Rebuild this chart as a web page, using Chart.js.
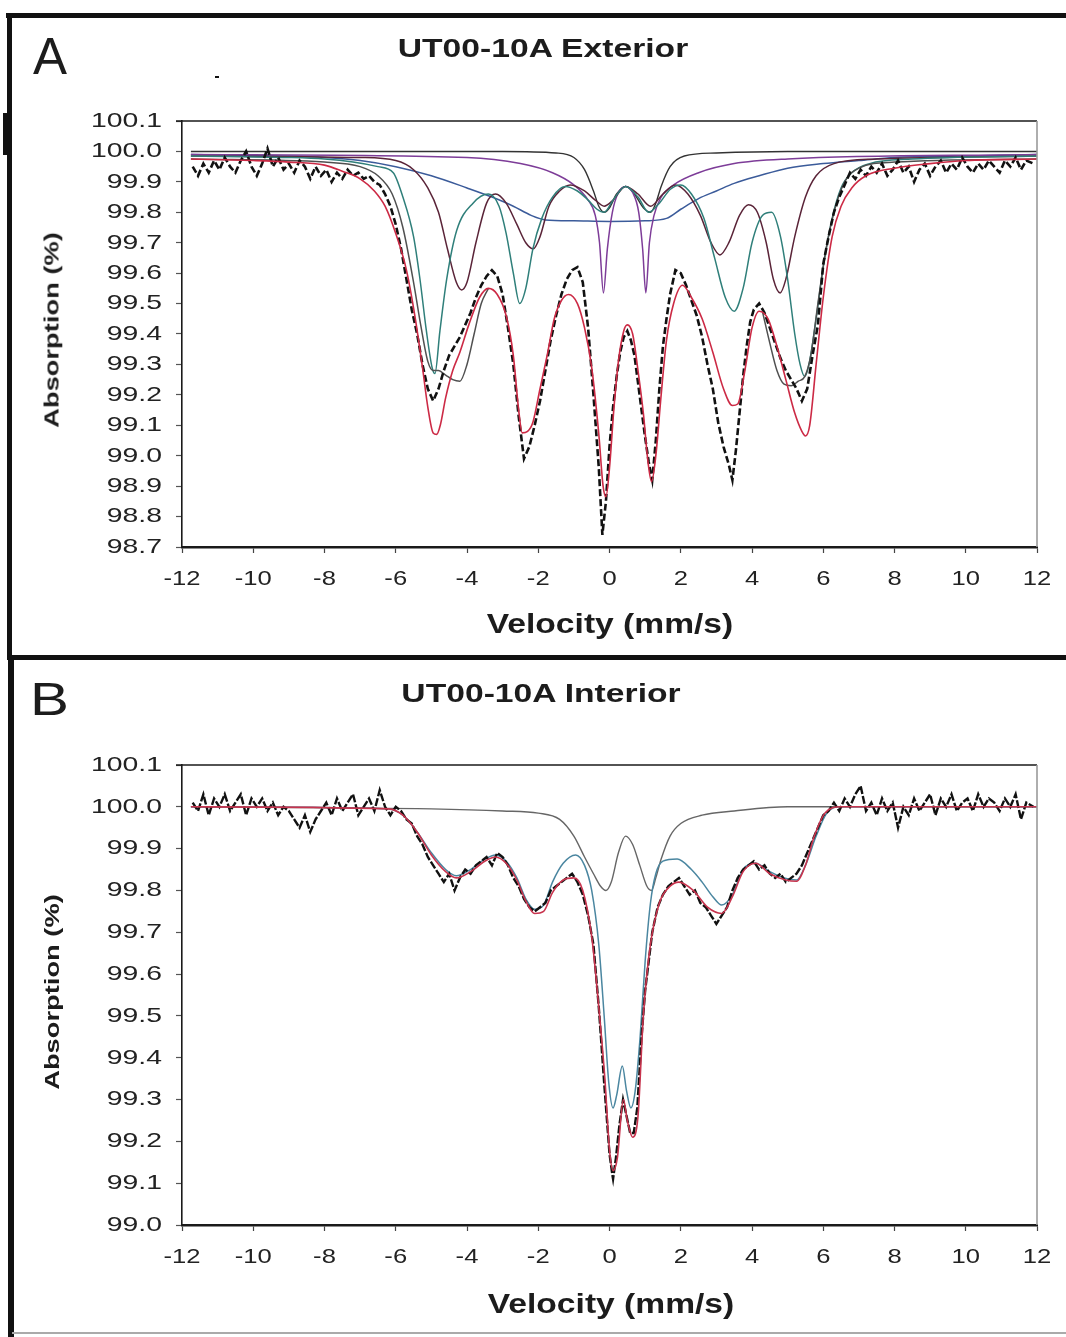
<!DOCTYPE html>
<html>
<head>
<meta charset="utf-8">
<title>UT00-10A Mössbauer spectra</title>
<script src="https://cdn.jsdelivr.net/npm/chart.js@4.4.1/dist/chart.umd.min.js"></script>
<style>
  body { margin: 0; background: #fff; }
  #page { position: relative; width: 1066px; height: 1337px; overflow: hidden; background: #fff;
          font-family: "Liberation Sans", Arial, sans-serif; color: #1c1c1c; }
  canvas { position: absolute; left: 0; }
  .rule { position: absolute; background: #111; }
  .txt { position: absolute; white-space: nowrap; line-height: 1; }
  .title { font-weight: bold; font-size: 26.5px; transform: translateX(-50%) scaleX(1.27); }
  .xtitle { font-weight: bold; font-size: 28px; transform: translateX(-50%) scaleX(1.2); }
  .ytitle { font-weight: bold; font-size: 21px; transform: translate(-50%, -50%) rotate(-90deg) scaleX(1.3); }
</style>
</head>
<body>
<div id="page">
  <canvas id="chartA" width="1066" height="655" style="top:0"></canvas>
  <canvas id="chartB" width="1066" height="677" style="top:660px"></canvas>

  <div class="rule" style="left:6px; top:13px; width:1060px; height:5px"></div>
  <div class="rule" style="left:7px; top:13px; width:5px; height:647px"></div>
  <div class="rule" style="left:3px; top:113px; width:5px; height:42px"></div>
  <div class="rule" style="left:7px; top:655px; width:1059px; height:5px"></div>
  <div class="rule" style="left:8px; top:655px; width:6px; height:682px"></div>
  <div class="rule" style="left:12px; top:1332px; width:1054px; height:2px; background:#aaa"></div>
  <div class="rule" style="left:215px; top:76px; width:4px; height:2px"></div>

  <div class="txt" style="left:33px; top:31px; font-size:51px">A</div>
  <div class="txt" style="left:30px; top:676px; font-size:46px; transform:scaleX(1.27); transform-origin:left top">B</div>

  <div class="txt title" style="left:543px; top:35px">UT00-10A Exterior</div>
  <div class="txt title" style="left:541px; top:680px">UT00-10A Interior</div>

  <div class="txt xtitle" style="left:610px; top:610px">Velocity (mm/s)</div>
  <div class="txt xtitle" style="left:611px; top:1290px">Velocity (mm/s)</div>

  <div class="txt ytitle" style="left:51px; top:330px">Absorption (%)</div>
  <div class="txt ytitle" style="left:51px; top:992px">Absorption (%)</div>
</div>

<script>
// axis ticks
const velocityTicks = [-12, -10, -8, -6, -4, -2, 0, 2, 4, 6, 8, 10, 12];
const absorptionTicksA = [98.7, 98.8, 98.9, 99.0, 99.1, 99.2, 99.3, 99.4, 99.5, 99.6, 99.7, 99.8, 99.9, 100.0, 100.1];
const absorptionTicksB = [99.0, 99.1, 99.2, 99.3, 99.4, 99.5, 99.6, 99.7, 99.8, 99.9, 100.0, 100.1];

// ---- A: exterior, [velocity, absorption] ----
const measuredA = [
  [-11.7, 99.95], [-11.55, 99.92], [-11.4, 99.96], [-11.25, 99.93], [-11.1, 99.97], [-10.95, 99.94],
  [-10.8, 99.98], [-10.65, 99.95], [-10.5, 99.93], [-10.35, 99.97], [-10.2, 100.00], [-10.05, 99.95],
  [-9.9, 99.92], [-9.75, 99.96], [-9.6, 100.01], [-9.45, 99.95], [-9.3, 99.98], [-9.15, 99.94],
  [-9.0, 99.96], [-8.85, 99.93], [-8.7, 99.97], [-8.55, 99.95], [-8.4, 99.91], [-8.25, 99.95],
  [-8.1, 99.92], [-7.95, 99.94], [-7.8, 99.90], [-7.65, 99.93], [-7.5, 99.91], [-7.35, 99.94],
  [-7.2, 99.92], [-7.05, 99.93], [-6.9, 99.91], [-6.75, 99.92], [-6.6, 99.90], [-6.45, 99.89],
  [-6.3, 99.86], [-6.15, 99.82], [-6.0, 99.76], [-5.85, 99.68], [-5.7, 99.58], [-5.55, 99.48],
  [-5.4, 99.40], [-5.25, 99.30], [-5.1, 99.22], [-4.95, 99.18], [-4.8, 99.22], [-4.65, 99.28],
  [-4.5, 99.33], [-4.35, 99.36], [-4.2, 99.39], [-4.05, 99.43], [-3.9, 99.47], [-3.75, 99.52],
  [-3.6, 99.56], [-3.45, 99.59], [-3.3, 99.61], [-3.15, 99.59], [-3.0, 99.53], [-2.85, 99.42],
  [-2.7, 99.30], [-2.55, 99.13], [-2.4, 98.99], [-2.25, 99.03], [-2.1, 99.10], [-1.95, 99.18],
  [-1.8, 99.28], [-1.65, 99.38], [-1.5, 99.46], [-1.35, 99.53], [-1.2, 99.58], [-1.05, 99.61],
  [-0.9, 99.62], [-0.75, 99.57], [-0.6, 99.42], [-0.45, 99.20], [-0.3, 98.96], [-0.2, 98.74],
  [-0.1, 98.85], [0.0, 99.03], [0.1, 99.16], [0.2, 99.26], [0.3, 99.34], [0.4, 99.39],
  [0.5, 99.41], [0.6, 99.38], [0.7, 99.33], [0.8, 99.24], [0.9, 99.15], [1.0, 99.06],
  [1.1, 98.98], [1.2, 98.92], [1.3, 99.05], [1.4, 99.22], [1.5, 99.36], [1.6, 99.45],
  [1.7, 99.53], [1.85, 99.61], [2.0, 99.60], [2.15, 99.56], [2.3, 99.51], [2.45, 99.46],
  [2.6, 99.39], [2.75, 99.30], [2.9, 99.22], [3.05, 99.11], [3.2, 99.03], [3.35, 98.97],
  [3.45, 98.92], [3.55, 99.02], [3.65, 99.14], [3.75, 99.26], [3.85, 99.36], [3.95, 99.44],
  [4.05, 99.48], [4.2, 99.50], [4.35, 99.47], [4.5, 99.42], [4.65, 99.37], [4.8, 99.32],
  [4.95, 99.28], [5.1, 99.25], [5.25, 99.22], [5.4, 99.18], [5.55, 99.22], [5.7, 99.33],
  [5.85, 99.43], [6.0, 99.63], [6.15, 99.72], [6.3, 99.80], [6.45, 99.85], [6.6, 99.89],
  [6.75, 99.93], [6.9, 99.91], [7.05, 99.94], [7.2, 99.92], [7.35, 99.95], [7.5, 99.93],
  [7.65, 99.96], [7.8, 99.92], [7.95, 99.94], [8.1, 99.97], [8.25, 99.93], [8.4, 99.95],
  [8.55, 99.90], [8.7, 99.94], [8.85, 99.96], [9.0, 99.92], [9.15, 99.95], [9.3, 99.97],
  [9.45, 99.93], [9.6, 99.96], [9.75, 99.94], [9.9, 99.98], [10.05, 99.95], [10.2, 99.93],
  [10.35, 99.96], [10.5, 99.94], [10.65, 99.97], [10.8, 99.95], [10.95, 99.93], [11.1, 99.97],
  [11.25, 99.95], [11.4, 99.98], [11.55, 99.94], [11.7, 99.97], [11.9, 99.96]
];

const fitA = [
  [-11.75, 99.975], [-10, 99.97], [-9, 99.965], [-8, 99.955], [-7.5, 99.935], [-7.0, 99.91],
  [-6.6, 99.87], [-6.3, 99.82], [-6.0, 99.73], [-5.7, 99.61], [-5.45, 99.45], [-5.25, 99.29],
  [-5.1, 99.16], [-4.95, 99.075], [-4.85, 99.07], [-4.75, 99.10], [-4.6, 99.19], [-4.4, 99.28],
  [-4.2, 99.34], [-3.95, 99.43], [-3.65, 99.52], [-3.4, 99.55], [-3.15, 99.53], [-2.9, 99.46],
  [-2.7, 99.33], [-2.55, 99.15], [-2.45, 99.075], [-2.3, 99.08], [-2.15, 99.11], [-1.95, 99.22],
  [-1.75, 99.33], [-1.55, 99.45], [-1.35, 99.51], [-1.15, 99.53], [-0.9, 99.50], [-0.7, 99.42],
  [-0.5, 99.29], [-0.3, 99.07], [-0.18, 98.90], [-0.1, 98.865], [0.0, 98.96], [0.12, 99.15],
  [0.25, 99.31], [0.4, 99.41], [0.5, 99.43], [0.65, 99.40], [0.8, 99.28], [0.95, 99.14],
  [1.08, 98.98], [1.18, 98.915], [1.3, 99.00], [1.45, 99.20], [1.6, 99.38], [1.8, 99.50],
  [2.05, 99.56], [2.3, 99.52], [2.6, 99.45], [2.9, 99.34], [3.2, 99.22], [3.45, 99.165],
  [3.6, 99.17], [3.8, 99.28], [4.0, 99.42], [4.2, 99.475], [4.45, 99.45], [4.7, 99.36],
  [4.95, 99.25], [5.2, 99.14], [5.4, 99.08], [5.5, 99.065], [5.62, 99.10], [5.8, 99.30],
  [6.0, 99.52], [6.25, 99.72], [6.5, 99.82], [6.8, 99.88], [7.2, 99.92], [8, 99.945],
  [9, 99.96], [10, 99.97], [12, 99.975]
];

const sextetSumA = [
  [-11.75, 99.975], [-8, 99.965], [-7, 99.95], [-6.5, 99.92], [-6.1, 99.86], [-5.8, 99.75],
  [-5.5, 99.57], [-5.3, 99.43], [-5.1, 99.31], [-4.95, 99.28], [-4.8, 99.28], [-4.6, 99.265],
  [-4.4, 99.25], [-4.2, 99.245], [-4.0, 99.30], [-3.8, 99.40], [-3.6, 99.50], [-3.4, 99.55],
  [0.5, null],
  [4.3, 99.47], [4.5, 99.37], [4.7, 99.28], [4.9, 99.235], [5.1, 99.23], [5.3, 99.245],
  [5.48, 99.26], [5.65, 99.33], [5.85, 99.50], [6.05, 99.66], [6.3, 99.80], [6.6, 99.90],
  [7.0, 99.945], [8, 99.965], [12, 99.975]
];

const sextetOuterA = [
  [-11.75, 99.985], [-9, 99.98], [-8, 99.975], [-7.2, 99.965], [-6.5, 99.95], [-6.07, 99.93],
  [-5.8, 99.85], [-5.5, 99.72], [-5.32, 99.58], [-5.14, 99.41], [-4.98, 99.29], [-4.9, 99.27],
  [-4.76, 99.41], [-4.57, 99.58], [-4.29, 99.74], [-3.83, 99.83], [-3.4, 99.86], [-3.1, 99.82],
  [-2.9, 99.73], [-2.7, 99.60], [-2.52, 99.50], [-2.35, 99.55], [-2.15, 99.68], [-1.9, 99.78],
  [-1.6, 99.85], [-1.25, 99.885], [-0.9, 99.87], [-0.6, 99.84], [-0.35, 99.81], [-0.15, 99.80],
  [0.1, 99.84], [0.45, 99.885], [0.8, 99.85], [1.1, 99.80], [1.4, 99.83], [1.7, 99.875],
  [2.0, 99.89], [2.3, 99.86], [2.65, 99.78], [2.95, 99.65], [3.25, 99.52], [3.5, 99.475],
  [3.75, 99.55], [4.0, 99.70], [4.3, 99.79], [4.55, 99.80], [4.8, 99.72], [5.0, 99.58],
  [5.2, 99.40], [5.35, 99.30], [5.48, 99.26], [5.6, 99.30], [5.8, 99.45], [6.0, 99.62],
  [6.25, 99.78], [6.5, 99.88], [6.8, 99.93], [7.3, 99.96], [8.5, 99.975], [12, 99.985]
];

const sextetInnerA = [
  [-11.75, 99.985], [-7, 99.98], [-6, 99.97], [-5.5, 99.94], [-5.1, 99.88], [-4.8, 99.80],
  [-4.55, 99.68], [-4.3, 99.57], [-4.15, 99.545], [-4.0, 99.57], [-3.75, 99.70], [-3.45, 99.83],
  [-3.2, 99.86], [-2.9, 99.83], [-2.6, 99.76], [-2.35, 99.70], [-2.14, 99.68], [-1.95, 99.72],
  [-1.7, 99.82], [-1.4, 99.87], [-1.1, 99.89], [-0.7, 99.87], [-0.4, 99.84], [-0.15, 99.82],
  [0.1, 99.84], [0.45, 99.885], [0.8, 99.86], [1.15, 99.82], [1.5, 99.86], [1.85, 99.89],
  [2.2, 99.86], [2.55, 99.79], [2.85, 99.70], [3.1, 99.66], [3.35, 99.70], [3.65, 99.79],
  [3.9, 99.825], [4.15, 99.80], [4.4, 99.70], [4.6, 99.58], [4.79, 99.535], [4.95, 99.58],
  [5.2, 99.72], [5.5, 99.85], [5.8, 99.92], [6.3, 99.96], [7.5, 99.975], [12, 99.985]
];

const sharpDoubletA = [
  [-11.75, 99.99], [-4, 99.98], [-2.5, 99.96], [-1.6, 99.93], [-1.0, 99.89], [-0.6, 99.84],
  [-0.4, 99.79], [-0.28, 99.70], [-0.17, 99.535], [-0.06, 99.68], [0.08, 99.80], [0.25, 99.865],
  [0.45, 99.885], [0.65, 99.865], [0.82, 99.80], [0.93, 99.68], [1.02, 99.535], [1.12, 99.70],
  [1.25, 99.79], [1.45, 99.85], [1.8, 99.89], [2.5, 99.93], [3.5, 99.96], [5, 99.975], [12, 99.99]
];

const doubletA = [
  [-11.75, 100.0], [-3, 100.0], [-1.5, 99.995], [-1.0, 99.98], [-0.7, 99.94], [-0.45, 99.87],
  [-0.3, 99.82], [-0.15, 99.80], [0.0, 99.815], [0.2, 99.86], [0.45, 99.885], [0.7, 99.86],
  [0.95, 99.815], [1.15, 99.80], [1.3, 99.83], [1.45, 99.885], [1.7, 99.95], [2.1, 99.985],
  [3, 99.995], [5, 100.0], [12, 100.0]
];

const broadA = [
  [-11.75, 99.99], [-9, 99.985], [-8, 99.98], [-7, 99.97], [-6, 99.95], [-5, 99.92],
  [-4, 99.88], [-3.3, 99.85], [-2.7, 99.82], [-2.2, 99.79], [-1.8, 99.775], [-1, 99.772],
  [0, 99.77], [1, 99.772], [1.6, 99.78], [2.0, 99.81], [2.5, 99.845], [3.0, 99.87],
  [3.5, 99.895], [4.2, 99.92], [5.0, 99.945], [6.0, 99.96], [7.0, 99.97], [8.0, 99.98],
  [10, 99.985], [12, 99.99]
];

// ---- B: interior ----
const measuredB = [
  [-11.7, 100.01], [-11.55, 99.99], [-11.4, 100.03], [-11.25, 99.98], [-11.1, 100.02], [-10.95, 100.00],
  [-10.8, 100.03], [-10.65, 99.99], [-10.5, 100.01], [-10.35, 100.03], [-10.2, 99.98], [-10.05, 100.02],
  [-9.9, 100.00], [-9.75, 100.02], [-9.6, 99.99], [-9.45, 100.01], [-9.3, 99.98], [-9.15, 100.00],
  [-9.0, 99.99], [-8.85, 99.97], [-8.7, 99.95], [-8.55, 99.98], [-8.4, 99.94], [-8.25, 99.97],
  [-8.1, 99.99], [-7.95, 100.01], [-7.8, 99.98], [-7.65, 100.02], [-7.5, 99.99], [-7.35, 100.01],
  [-7.2, 100.03], [-7.05, 99.98], [-6.9, 100.00], [-6.75, 100.02], [-6.6, 99.99], [-6.45, 100.04],
  [-6.3, 100.00], [-6.15, 99.98], [-6.0, 100.00], [-5.85, 99.99], [-5.7, 99.97], [-5.55, 99.96],
  [-5.4, 99.93], [-5.25, 99.91], [-5.1, 99.88], [-4.95, 99.86], [-4.8, 99.84], [-4.65, 99.82],
  [-4.5, 99.84], [-4.35, 99.80], [-4.2, 99.83], [-4.05, 99.85], [-3.9, 99.84], [-3.75, 99.86],
  [-3.6, 99.87], [-3.45, 99.88], [-3.3, 99.86], [-3.15, 99.89], [-3.0, 99.88], [-2.85, 99.86],
  [-2.7, 99.83], [-2.55, 99.81], [-2.4, 99.78], [-2.25, 99.76], [-2.1, 99.75], [-1.95, 99.76],
  [-1.8, 99.77], [-1.65, 99.80], [-1.5, 99.81], [-1.35, 99.82], [-1.2, 99.83], [-1.05, 99.84],
  [-0.9, 99.82], [-0.75, 99.79], [-0.6, 99.74], [-0.45, 99.67], [-0.3, 99.52], [-0.15, 99.34],
  [0.0, 99.17], [0.08, 99.12], [0.1, 99.11], [0.18, 99.16], [0.28, 99.24], [0.38, 99.30],
  [0.48, 99.26], [0.58, 99.22], [0.68, 99.22], [0.78, 99.28], [0.9, 99.45], [1.0, 99.56],
  [1.1, 99.63], [1.2, 99.70], [1.35, 99.76], [1.5, 99.79], [1.65, 99.81], [1.8, 99.82],
  [1.95, 99.83], [2.1, 99.81], [2.25, 99.79], [2.4, 99.80], [2.55, 99.77], [2.7, 99.76],
  [2.85, 99.74], [3.0, 99.72], [3.15, 99.74], [3.3, 99.76], [3.45, 99.80], [3.6, 99.83],
  [3.75, 99.85], [3.9, 99.86], [4.05, 99.87], [4.2, 99.85], [4.35, 99.86], [4.5, 99.84],
  [4.65, 99.83], [4.8, 99.84], [4.95, 99.82], [5.1, 99.83], [5.25, 99.84], [5.4, 99.86],
  [5.55, 99.89], [5.7, 99.92], [5.85, 99.95], [6.0, 99.98], [6.15, 99.99], [6.3, 100.01],
  [6.45, 99.99], [6.6, 100.02], [6.75, 100.00], [6.9, 100.03], [7.05, 100.05], [7.2, 99.99],
  [7.35, 100.01], [7.5, 99.98], [7.65, 100.02], [7.8, 99.99], [7.95, 100.01], [8.1, 99.95],
  [8.25, 100.00], [8.4, 99.98], [8.55, 100.02], [8.7, 99.99], [8.85, 100.01], [9.0, 100.03],
  [9.15, 99.98], [9.3, 100.02], [9.45, 100.00], [9.6, 100.03], [9.75, 99.99], [9.9, 100.01],
  [10.05, 100.02], [10.2, 99.99], [10.35, 100.03], [10.5, 100.00], [10.65, 100.02], [10.8, 100.01],
  [10.95, 99.99], [11.1, 100.02], [11.25, 100.00], [11.4, 100.03], [11.55, 99.97], [11.7, 100.01],
  [11.9, 100.00]
];

const fitB = [
  [-11.75, 100.0], [-6.2, 99.995], [-5.8, 99.98], [-5.4, 99.94], [-5.0, 99.885], [-4.6, 99.845],
  [-4.3, 99.83], [-3.9, 99.845], [-3.5, 99.87], [-3.2, 99.88], [-2.9, 99.865], [-2.6, 99.825],
  [-2.35, 99.775], [-2.1, 99.745], [-1.85, 99.75], [-1.6, 99.795], [-1.3, 99.825], [-1.0, 99.83],
  [-0.75, 99.80], [-0.5, 99.69], [-0.3, 99.52], [-0.13, 99.35], [0.0, 99.18], [0.1, 99.13],
  [0.22, 99.16], [0.39, 99.30], [0.5, 99.25], [0.65, 99.21], [0.8, 99.26], [0.95, 99.50],
  [1.14, 99.665], [1.4, 99.77], [1.7, 99.81], [1.95, 99.82], [2.35, 99.80], [2.75, 99.76],
  [3.15, 99.745], [3.45, 99.785], [3.75, 99.845], [4.1, 99.865], [4.5, 99.84], [4.95, 99.825],
  [5.25, 99.822], [5.5, 99.86], [5.75, 99.93], [6.05, 99.985], [6.5, 100.0], [12, 100.0]
];

const magneticB = [
  [-11.75, 100.0], [-6.2, 99.995], [-5.8, 99.98], [-5.4, 99.94], [-5.0, 99.89], [-4.6, 99.85],
  [-4.3, 99.835], [-3.9, 99.85], [-3.5, 99.875], [-3.2, 99.885], [-2.9, 99.87], [-2.6, 99.83],
  [-2.35, 99.78], [-2.1, 99.755], [-1.85, 99.765], [-1.6, 99.82], [-1.3, 99.865], [-0.95, 99.885],
  [-0.7, 99.86], [-0.5, 99.80], [-0.3, 99.67], [-0.15, 99.50], [-0.02, 99.34], [0.1, 99.28],
  [0.2, 99.31], [0.36, 99.38], [0.48, 99.32], [0.6, 99.28], [0.72, 99.32], [0.86, 99.45],
  [1.0, 99.63], [1.15, 99.77], [1.3, 99.84], [1.5, 99.87], [1.9, 99.875], [2.3, 99.85],
  [2.6, 99.82], [2.9, 99.785], [3.15, 99.765], [3.45, 99.79], [3.75, 99.85], [4.1, 99.865],
  [4.5, 99.845], [4.9, 99.83], [5.25, 99.825], [5.5, 99.86], [5.8, 99.93], [6.1, 99.985],
  [6.5, 100.0], [12, 100.0]
];

const doubletB = [
  [-11.75, 100.0], [-5, 99.995], [-3, 99.99], [-2, 99.985], [-1.4, 99.97], [-1.0, 99.93],
  [-0.7, 99.88], [-0.45, 99.84], [-0.25, 99.81], [-0.1, 99.80], [0.05, 99.82], [0.25, 99.89],
  [0.45, 99.93], [0.65, 99.91], [0.85, 99.86], [1.05, 99.81], [1.18, 99.80], [1.3, 99.83],
  [1.45, 99.875], [1.7, 99.93], [2.0, 99.96], [2.6, 99.98], [3.5, 99.99], [5, 100.0], [12, 100.0]
];

// the scan is stretched sideways, so tick labels are drawn wide
const Y_STRETCH = 1.35;
const X_STRETCH = 1.22;

function wideText(ctx, txt, x, y, sx) {
  ctx.save();
  ctx.translate(x, y);
  ctx.scale(sx, 1);
  ctx.fillText(txt, 0, 0);
  ctx.restore();
}

const scanFrame = {
  id: 'scanFrame',
  afterDraw(chart) {
    const { ctx, chartArea: a, scales } = chart;
    ctx.save();
    ctx.lineWidth = 1.6;
    ctx.strokeStyle = '#1a1a1a';
    ctx.beginPath(); ctx.moveTo(a.left - 6, a.top); ctx.lineTo(a.right, a.top); ctx.stroke();
    ctx.strokeStyle = '#9a9a9a';
    ctx.beginPath(); ctx.moveTo(a.right, a.top); ctx.lineTo(a.right, a.bottom); ctx.stroke();

    ctx.fillStyle = '#222';
    ctx.font = '21px "Liberation Sans", Arial, sans-serif';
    ctx.textAlign = 'left';
    ctx.textBaseline = 'middle';
    scales.y.ticks.forEach(t => {
      const txt = t.value.toFixed(1);
      const w = ctx.measureText(txt).width * Y_STRETCH;
      wideText(ctx, txt, a.left - 20 - w, scales.y.getPixelForValue(t.value), Y_STRETCH);
    });
    ctx.textBaseline = 'alphabetic';
    scales.x.ticks.forEach(t => {
      const txt = String(t.value);
      const w = ctx.measureText(txt).width * X_STRETCH;
      wideText(ctx, txt, scales.x.getPixelForValue(t.value) - w / 2, a.bottom + 38, X_STRETCH);
    });
    ctx.restore();
  }
};

function curve(points, color, width, smooth, dash) {
  return {
    data: points.map(p => ({ x: p[0], y: p[1] })),
    showLine: true,
    borderColor: color,
    borderWidth: width,
    borderDash: dash || [],
    pointRadius: 0,
    fill: false,
    spanGaps: false,
    tension: 0,
    cubicInterpolationMode: smooth ? 'monotone' : 'default'
  };
}

function spectrum(id, datasets, yTicks, plotTop, axisHeight) {
  return new Chart(document.getElementById(id), {
    type: 'scatter',
    data: { datasets },
    options: {
      responsive: false,
      animation: false,
      events: [],
      layout: { padding: { top: plotTop, right: 29, left: 0, bottom: 0 } },
      plugins: { legend: { display: false }, tooltip: { enabled: false } },
      scales: {
        x: {
          type: 'linear',
          min: velocityTicks[0],
          max: velocityTicks[velocityTicks.length - 1],
          afterBuildTicks: s => { s.ticks = velocityTicks.map(value => ({ value })); },
          afterFit: s => { s.height = axisHeight; },
          ticks: { display: false },
          grid: { drawOnChartArea: false, drawTicks: true, tickLength: 6, tickColor: '#444', tickWidth: 1.2 },
          border: { color: '#1a1a1a', width: 2.5 }
        },
        y: {
          type: 'linear',
          min: yTicks[0],
          max: yTicks[yTicks.length - 1],
          afterBuildTicks: s => { s.ticks = yTicks.map(value => ({ value })); },
          afterFit: s => { s.width = 182; },
          ticks: { display: false },
          grid: { drawOnChartArea: false, drawTicks: true, tickLength: 6, tickColor: '#555', tickWidth: 1.2 },
          border: { color: '#1a1a1a', width: 1.6 }
        }
      }
    },
    plugins: [scanFrame]
  });
}

spectrum('chartA', [
  curve(fitA, '#cc2a45', 1.6, true),
  curve(measuredA, '#111111', 2.6, false, [7, 3]),
  curve(sextetSumA, '#505050', 1.5, true),
  curve(sextetOuterA, '#2f7f7a', 1.5, true),
  curve(sextetInnerA, '#5a2438', 1.5, true),
  curve(sharpDoubletA, '#7d3c98', 1.5, true),
  curve(doubletA, '#333333', 1.4, true),
  curve(broadA, '#3b5b9a', 1.5, true)
], absorptionTicksA, 121, 108);

spectrum('chartB', [
  curve(fitB, '#c8344e', 1.6, true),
  curve(measuredB, '#111111', 2.4, false, [8, 2]),
  curve(magneticB, '#4a86a0', 1.5, true),
  curve(doubletB, '#666666', 1.4, true)
], absorptionTicksB, 105, 112);
</script>
</body>
</html>
